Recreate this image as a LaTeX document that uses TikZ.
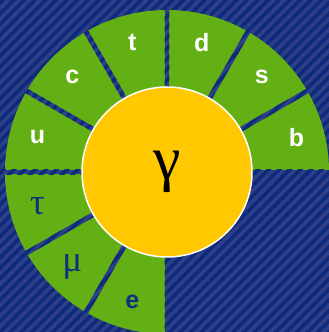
\documentclass[tikz,border=0pt]{standalone}
\usepackage{xcolor}
\usepackage{fontspec}
\setmainfont{Liberation Serif}
\newfontfamily\labelfont{Liberation Sans}
\usepackage{tikz}
\usetikzlibrary{patterns.meta}

\definecolor{bgblue}{HTML}{2E3F88}
\definecolor{stripeblue}{HTML}{0C2B7C}
\definecolor{leafgreen}{HTML}{63B015}
\definecolor{sunyellow}{HTML}{FFC800}
\definecolor{leptonblue}{HTML}{10307E}

\begin{document}
\begin{tikzpicture}[
    x=1pt, y=1pt,
    backdrop/.style={fill=bgblue, postaction={pattern={Lines[angle=45, distance=7.5pt, line width=3.6pt]}, pattern color=stripeblue}},
    wedges/.style={fill=leafgreen},
    core/.style={circle, fill=sunyellow, draw=white, line width=1.5pt, minimum size=170pt, inner sep=0pt, font=\fontsize{62}{62}\selectfont},
    quark/.style={text=white, font=\labelfont\bfseries\fontsize{25}{25}\selectfont},
    lepton/.style={text=leptonblue, font=\labelfont\bfseries\fontsize{25}{25}\selectfont},
    greek/.style={text=leptonblue, font=\fontsize{37}{37}\selectfont}
  ]
    \useasboundingbox (0,0) rectangle (329,332);
    \clip (0,0) rectangle (329,332);
    \path[backdrop] (0,0) rectangle (329,332);

    \begin{scope}[shift={(167,160)}]
      % green ring, 9 sectors of 30 degrees
      \fill[wedges] (0,0) -- (0:162) arc[start angle=0, end angle=270, radius=162] -- cycle;
      \foreach \a in {0,30,...,270}
        \path[backdrop, rotate=\a] (0,-2.4) -- (170,-2.4) -- (170,2.4) -- (0,2.4) -- cycle;

      \node[core] (photon) at (0,0) {γ};

      \foreach \name/\txt/\sty [count=\i from 0] in
        {b/b/quark, s/s/quark, d/d/quark, t/t/quark, c/c/quark, u/u/quark,
         tau/τ/greek, mu/μ/greek, e/e/lepton}
        \node[\sty] (\name) at ({15+30*\i}:134) {\txt};
    \end{scope}
  \end{tikzpicture}
\end{document}
